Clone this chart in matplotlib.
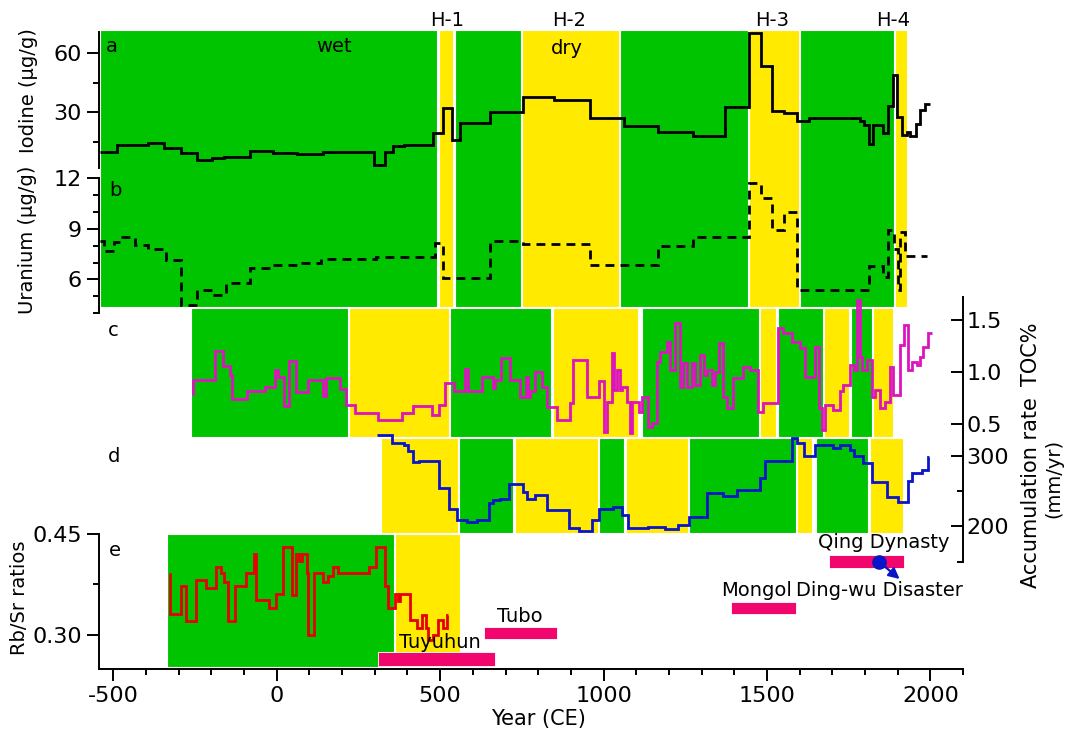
import matplotlib
matplotlib.use('Agg')
import matplotlib.pyplot as plt
from matplotlib.patches import Rectangle

W, H = 1067, 731
plt.rcParams['font.family'] = 'DejaVu Sans'
plt.rcParams['font.size'] = 14
plt.rcParams['axes.unicode_minus'] = False

GREEN = '#00c400'
YELLOW = '#ffea00'
PINK = '#f0066c'
MAGENTA = '#dc14be'
BLUE = '#0a14c8'
RED = '#e60000'

# ---- wet / dry bands (years CE) ----
ab_band_start = [-541, 497, 544, 750, 1050, 1444, 1601, 1892]
ab_band_end = [491, 539, 747, 1046, 1441, 1598, 1889, 1930]
ab_band_kind = ['w', 'd', 'w', 'd', 'w', 'd', 'w', 'd']

c_band_start = [-262, 221, 530, 844, 1117, 1479, 1534, 1675, 1757, 1824]
c_band_end = [217, 527, 839, 1106, 1476, 1528, 1671, 1752, 1821, 1887]
c_band_kind = ['w', 'd', 'w', 'd', 'w', 'd', 'w', 'd', 'w', 'd']

d_band_start = [319, 557, 729, 986, 1068, 1262, 1593, 1650, 1815]
d_band_end = [554, 724, 982, 1064, 1258, 1589, 1639, 1810, 1917]
d_band_kind = ['d', 'w', 'd', 'w', 'd', 'w', 'd', 'w', 'd']

e_band_start = [-335, 363]
e_band_end = [358, 562]
e_band_kind = ['w', 'd']

# ---- a: iodine (ug/g) ----
iodine_edges = [-541, -488, -393, -346, -293, -245, -198, -161, -82, -13, 61, 140,
                298, 330, 356, 388, 478, 509, 536, 562, 652, 752, 849, 959, 1063,
                1168, 1273, 1372, 1446, 1483, 1517, 1553, 1593, 1630, 1786, 1797,
                1813, 1826, 1854, 1870, 1886, 1899, 1913, 1928, 1938, 1957, 1969,
                1985, 2000]
iodine_vals = [10.2, 13.5, 14.7, 11.9, 9.4, 6.0, 6.8, 7.7, 10.5, 9.4, 8.9, 10.2,
               3.5, 10.2, 13.0, 13.5, 19.4, 32.3, 16.1, 24.5, 30.3, 37.9, 36.2, 27.0,
               23.1, 20.2, 18.2, 32.5, 69.8, 53.3, 30.7, 29.8, 25.8, 27.3, 25.8,
               23.6, 14.0, 23.6, 19.4, 33.2, 48.8, 27.8, 18.5, 19.9, 17.9, 24.1,
               31.2, 34.0]

# ---- b: uranium (ug/g) ----
uranium_edges = [-541, -530, -498, -477, -435, -393, -340, -293, -245, -198, -155,
                 -82, -13, 61, 135, 304, 483, 509, 652, 752, 959, 1168, 1273, 1446,
                 1483, 1517, 1553, 1593, 1813, 1854, 1870, 1890, 1900, 1908, 1922,
                 1990]
uranium_vals = [8.3, 7.7, 8.2, 8.49, 8.03, 7.78, 7.14, 4.48, 5.37, 5.07, 5.8, 6.65,
                6.85, 7.0, 7.24, 7.34, 8.13, 6.06, 8.3, 8.07, 6.85, 7.99, 8.49, 11.68,
                10.8, 8.92, 10.0, 5.37, 6.79, 6.15, 8.92, 7.8, 5.4, 8.8, 7.4]

# ---- c: TOC % ----
toc_edges = [-260, -255, -189, -165, -143, -138, -92, -36, -5, 5, 23, 38, 58, 97,
             143, 151, 194, 212, 240, 311, 383, 418, 474, 495, 515, 541, 576, 585,
             628, 663, 668, 687, 714, 743, 763, 768, 775, 791, 811, 826, 857, 896,
             908, 949, 987, 1000, 1010, 1025, 1032, 1040, 1049, 1056, 1071, 1081,
             1086, 1107, 1117, 1137, 1148, 1163, 1173, 1193, 1204, 1219, 1234, 1244,
             1255, 1270, 1280, 1295, 1306, 1316, 1331, 1341, 1352, 1367, 1377, 1397,
             1428, 1448, 1474, 1489, 1535, 1550, 1576, 1601, 1617, 1647, 1658, 1668,
             1678, 1703, 1724, 1734, 1754, 1765, 1775, 1785, 1790, 1805, 1821, 1831,
             1846, 1862, 1877, 1887, 1907, 1918, 1933, 1943, 1958, 1969, 1979, 1994,
             2004]
toc_vals = [0.785, 0.92, 1.20, 1.055, 0.97, 0.734, 0.81, 0.855, 1.016, 0.945, 0.67,
            1.105, 0.80, 0.92, 0.766, 0.936, 0.83, 0.68, 0.60, 0.535, 0.606, 0.67,
            0.583, 0.68, 0.894, 0.817, 1.025, 0.81, 0.952, 0.84, 0.92, 1.134, 0.92,
            0.76, 0.952, 0.76, 0.81, 1.0, 0.855, 0.663, 0.535, 0.695, 1.112, 0.76,
            0.913, 0.423, 0.71, 1.18, 0.823, 1.016, 0.823, 0.855, 0.71, 0.407, 0.71,
            0.615, 0.76, 0.47, 0.503, 1.096, 1.192, 1.288, 1.016, 1.465, 0.855, 1.08,
            0.855, 1.08, 0.87, 1.16, 0.968, 1.016, 0.87, 1.0, 1.272, 0.76, 0.647,
            0.936, 1.048, 1.016, 0.615, 0.695, 1.416, 1.368, 1.288, 1.224, 0.952,
            1.24, 0.647, 0.439, 0.68, 0.631, 0.81, 0.87, 1.064, 1.016, 1.69, 1.144,
            1.016, 1.112, 0.76, 0.823, 0.647, 0.71, 1.048, 0.776, 1.256, 1.448,
            1.016, 1.096, 1.064, 1.144, 1.24, 1.368]

# ---- d: accumulation rate (mm/yr) ----
accum_edges = [306, 352, 388, 403, 416, 434, 495, 526, 551, 582, 612, 648, 663, 684,
               712, 755, 765, 791, 826, 893, 926, 964, 987, 1030, 1056, 1076, 1137,
               1188, 1229, 1260, 1316, 1367, 1408, 1479, 1494, 1576, 1591, 1612, 1647,
               1703, 1724, 1754, 1765, 1795, 1821, 1867, 1902, 1933, 1943, 1974, 1994,
               1995]
accum_vals = [329, 318.6, 315.3, 307.2, 291.6, 293, 253.7, 225.2, 209.6, 206.3,
              209.6, 233.3, 238, 239.4, 259.8, 249, 239.4, 244.2, 223.8, 198.2, 193.5,
              208.6, 225.2, 227.6, 215.8, 198.2, 199.2, 196.8, 201.5, 213.4, 246.6,
              242.8, 251.3, 267.9, 293, 324.8, 317.7, 300.1, 315.3, 310.5, 315.3,
              308.2, 300.1, 290.2, 263.2, 241.8, 234.7, 264.6, 275, 279.7, 298.7]

# ---- e: Rb/Sr ratios ----
rbsr_edges = [-330, -328, -293, -277, -247, -216, -187, -171, -161, -150, -129, -95,
              -71, -64, -24, -2, 19, 48, 59, 68, 78, 92, 95, 114, 140, 156, 172, 187,
              282, 303, 330, 340, 362, 370, 377, 409, 430, 443, 456, 462, 478, 493,
              509, 520, 525]
rbsr_vals = [0.39, 0.331, 0.372, 0.32, 0.382, 0.370, 0.401, 0.392, 0.379, 0.32,
             0.372, 0.392, 0.421, 0.352, 0.34, 0.361, 0.431, 0.359, 0.421, 0.41,
             0.421, 0.392, 0.30, 0.392, 0.379, 0.387, 0.401, 0.392, 0.401, 0.431,
             0.372, 0.34, 0.361, 0.35, 0.361, 0.322, 0.31, 0.33, 0.31, 0.293, 0.30,
             0.322, 0.31, 0.33]

# ---- historical periods ----
dynasty_names = ['Tuyuhun', 'Tubo', 'Mongol', 'Qing Dynasty']
dynasty_start = [311, 634, 1391, 1689]
dynasty_end = [667, 859, 1588, 1920]
dingwu_year = 1844

XLIM = (-544, 2100)
TICKSIZE = 16
fig = plt.figure(figsize=(W / 100, H / 100), dpi=100)


def px_axes(top, bottom, left=99, right=963):
    return fig.add_axes([left / W, 1 - bottom / H, (right - left) / W, (bottom - top) / H])


def ftext(x, y, s, **kw):
    fig.text(x / W, 1 - y / H, s, **kw)


# background layer, y in pixel rows
bg = px_axes(0, H)
bg.set_xlim(XLIM)
bg.set_ylim(H, 0)
bg.axis('off')


def draw_bands(starts, ends, kinds, top, bottom):
    for s, e, k in zip(starts, ends, kinds):
        bg.add_patch(Rectangle((s, top), e - s, bottom - top,
                               facecolor=GREEN if k == 'w' else YELLOW,
                               edgecolor='white', lw=0.8))


draw_bands(ab_band_start, ab_band_end, ab_band_kind, 30, 307)
draw_bands(c_band_start, c_band_end, c_band_kind, 308, 437)
draw_bands(d_band_start, d_band_end, d_band_kind, 438, 533)
draw_bands(e_band_start, e_band_end, e_band_kind, 534, 667)

# dynasty bars
bar_rows = [(652, 666), (627, 639), (602, 614), (555, 568)]
for s, e, (t, b) in zip(dynasty_start, dynasty_end, bar_rows):
    bg.add_patch(Rectangle((s, t), e - s, b - t, facecolor=PINK, edgecolor='white', lw=0.6))
bg.plot([dingwu_year], [562], 'o', color=BLUE, ms=9.5, zorder=5)
bg.annotate('', xy=(dingwu_year + 62, 579), xytext=(dingwu_year, 562),
            arrowprops=dict(arrowstyle='-|>', color=BLUE, lw=1.6, mutation_scale=16,
                            shrinkA=0, shrinkB=0), zorder=5)


def style_axis(ax, side, ylim):
    ax.set_facecolor('none')
    ax.set_xlim(XLIM)
    ax.set_ylim(*ylim)
    for sp in ax.spines.values():
        sp.set_visible(False)
    ax.spines[side].set_visible(True)
    ax.spines[side].set_linewidth(1.4)
    ax.set_xticks([])
    if side == 'right':
        ax.yaxis.tick_right()
        ax.tick_params(axis='y', which='both', direction='in', width=1.4, pad=2.5)
    else:
        ax.tick_params(axis='y', which='both', direction='out', width=1.4, pad=4)
    ax.tick_params(axis='y', which='major', length=8.5, labelsize=TICKSIZE)
    ax.tick_params(axis='y', which='minor', length=4.5)


LW = 2.0

ax_a = px_axes(31.7, 168)
style_axis(ax_a, 'left', (1.97, 70.6))
ax_a.set_yticks([30, 60])
ax_a.set_yticks([15, 45], minor=True)
ax_a.stairs(iodine_vals, iodine_edges, baseline=None, color='black', lw=LW, clip_on=False)

ax_b = px_axes(178, 313.3)
style_axis(ax_b, 'left', (4, 12))
ax_b.set_yticks([6, 9, 12])
ax_b.set_yticks([4, 5, 7, 8, 10, 11], minor=True)
ax_b.stairs(uranium_vals, uranium_edges, baseline=None, color='black', lw=LW,
            linestyle=(0, (3.2, 2.2)), clip_on=False)

ax_c = px_axes(297, 437)
style_axis(ax_c, 'right', (0.372, 1.718))
ax_c.set_yticks([0.5, 1.0, 1.5])
ax_c.set_yticklabels(['0.5', '1.0', '1.5'])
ax_c.stairs(toc_vals, toc_edges, baseline=None, color=MAGENTA, lw=LW, clip_on=False)

ax_d = px_axes(437, 561.7)
style_axis(ax_d, 'right', (150, 326.6))
ax_d.set_yticks([200, 300])
ax_d.set_yticks([150, 250], minor=True)
ax_d.stairs(accum_vals, accum_edges, baseline=None, color=BLUE, lw=LW, clip_on=False)

ax_e = px_axes(534, 668.5)
style_axis(ax_e, 'left', (0.25, 0.45))
ax_e.spines['bottom'].set_visible(True)
ax_e.spines['bottom'].set_linewidth(1.4)
ax_e.set_yticks([0.30, 0.45])
ax_e.set_yticklabels(['0.30', '0.45'])
ax_e.set_yticks([0.375], minor=True)
ax_e.set_xticks([-500, 0, 500, 1000, 1500, 2000])
ax_e.set_xticks(list(range(-400, 2101, 100)), minor=True)
ax_e.tick_params(axis='x', which='both', direction='out', width=1.4, pad=4,
                 labelsize=TICKSIZE)
ax_e.tick_params(axis='x', which='major', length=8.5)
ax_e.tick_params(axis='x', which='minor', length=4.5)
ax_e.stairs(rbsr_vals, rbsr_edges, baseline=None, color=RED, lw=LW, clip_on=False)

# texts
for s, x in zip(['H-1', 'H-2', 'H-3', 'H-4'], [447, 569, 772, 893]):
    ftext(x, 21, s, ha='center', va='center')
ftext(334, 47, 'wet', ha='center', va='center')
ftext(567, 49, 'dry', ha='center', va='center')
for s, x, y in zip('abcde', [112, 115, 113, 114, 115], [47, 191, 331, 457, 550]):
    ftext(x, y, s, ha='center', va='center')
for s, x, y in zip(dynasty_names, [440, 520, 757, 884], [642, 617, 590, 543]):
    ftext(x, y, s, ha='center', va='center')
ftext(879, 590, 'Ding-wu Disaster', ha='center', va='center')

ftext(28, 91, 'Iodine (μg/g)', rotation=90, ha='center', va='center')
ftext(28, 240, 'Uranium (μg/g)', rotation=90, ha='center', va='center')
ftext(20, 598, 'Rb/Sr ratios', rotation=90, ha='center', va='center')
ftext(538, 719, 'Year (CE)', ha='center', va='center', fontsize=15)
ftext(1031, 322, 'TOC%', rotation=90, ha='center', va='top', fontsize=15)
ftext(1031, 588, 'Accumulation rate', rotation=90, ha='center', va='bottom', fontsize=15)
ftext(1054, 478, '(mm/yr)', rotation=90, ha='center', va='center', fontsize=14)

fig.savefig('out.png', dpi=100)
